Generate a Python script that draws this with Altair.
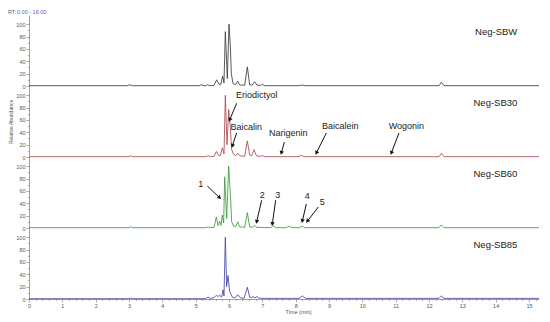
import math
import altair as alt
import pandas as pd

FONT = "Liberation Sans"
TIME_MAX = 15.3
Y_MAX = 115

SAMPLES = ["Neg-SBW", "Neg-SB30", "Neg-SB60", "Neg-SB85"]
COLORS = ["#3c3c3c", "#a84a50", "#3a9c3a", "#4646a2"]

SBW_T = [0, 2.95, 3.02, 3.1, 5.1, 5.18, 5.25, 5.3, 5.36, 5.42, 5.55, 5.63, 5.7, 5.75, 5.81, 5.85,
         5.89, 5.95, 6.0, 6.04, 6.07, 6.12, 6.2, 6.26, 6.32, 6.38, 6.42, 6.47, 6.55, 6.62, 6.7,
         6.77, 6.84, 6.95, 7.0, 7.06, 8.1, 8.2, 8.3, 12.3, 12.37, 12.45, 15.3]
SBW_Y = [0.5, 0.5, 2, 0.5, 0.5, 2, 0.5, 0.5, 2, 0.5, 1, 10, 3, 2, 16, 5,
         88, 12, 100, 65, 20, 4, 2, 8, 2, 1, 2, 1, 31, 2, 1.5,
         7, 1.5, 1, 3, 0.5, 0.5, 1.5, 0.5, 0.5, 6, 0.5, 0.5]

SB30_T = [0, 3.0, 3.05, 3.1, 5.3, 5.38, 5.45, 5.55, 5.62, 5.68, 5.74, 5.8, 5.85, 5.89, 5.94,
          5.99, 6.04, 6.08, 6.14, 6.2, 6.26, 6.32, 6.4, 6.47, 6.55, 6.62, 6.68, 6.75, 6.82,
          6.95, 7.0, 7.06, 8.1, 8.17, 8.25, 12.3, 12.37, 12.45, 15.3]
SB30_Y = [0.5, 0.5, 2, 0.5, 0.5, 2, 0.5, 1, 9, 3, 2, 15, 5, 100, 20,
          77, 47, 12, 4, 2, 6, 2, 1.5, 1, 26, 3, 2, 12, 2,
          1, 2.5, 0.5, 0.5, 3, 0.5, 0.5, 6, 0.5, 0.5]

SB60_T = [0, 3.0, 3.05, 3.1, 5.3, 5.38, 5.45, 5.55, 5.62, 5.67, 5.72, 5.76, 5.8, 5.84, 5.87,
          5.93, 5.99, 6.04, 6.08, 6.14, 6.2, 6.26, 6.32, 6.4, 6.47, 6.55, 6.62, 6.7, 6.77,
          6.84, 7.25, 7.33, 7.4, 7.72, 7.8, 7.88, 8.12, 8.2, 8.28, 12.3, 12.37, 12.45, 15.3]
SB60_Y = [0.5, 0.5, 2, 0.5, 0.5, 1.5, 0.5, 1, 18, 4, 11, 4, 21, 8, 83,
          15, 100, 56, 10, 3, 2, 10, 2, 1.5, 1, 25, 2, 1, 4,
          1, 0.5, 4, 0.5, 0.5, 3, 0.5, 0.5, 3, 0.5, 0.5, 5, 0.5, 0.5]

SB85_T = [0, 3.0, 3.05, 3.1, 5.3, 5.37, 5.44, 5.55, 5.62, 5.67, 5.72, 5.78, 5.82, 5.85, 5.89,
          5.93, 5.97, 6.02, 6.1, 6.18, 6.26, 6.34, 6.45, 6.55, 6.62, 6.68, 6.72, 6.78, 6.84,
          6.88, 6.95, 8.1, 8.2, 8.3, 12.3, 12.37, 12.45, 15.3]
SB85_Y = [0.5, 0.5, 1.5, 0.5, 0.5, 3, 1, 2, 6, 4, 6, 3, 15, 5, 100,
          20, 38, 12, 3, 2, 7, 2, 1, 19, 3, 2, 4, 2, 4,
          2, 1, 1, 5, 1, 1, 5, 1, 1]

TRACES_T = [SBW_T, SB30_T, SB60_T, SB85_T]
TRACES_Y = [SBW_Y, SB30_Y, SB60_Y, SB85_Y]

# Annotations
SB30_LABELS = ["Eriodictyol", "Baicalin", "Narigenin", "Baicalein", "Wogonin"]
SB30_LABEL_T = [6.83, 6.52, 7.78, 9.34, 11.32]
SB30_LABEL_Y = [100, 49, 39, 50, 50]
SB30_ARROW_T1 = [6.23, 6.23, 7.66, 8.92, 11.1]
SB30_ARROW_Y1 = [87, 39, 24, 39, 39]
SB30_ARROW_T2 = [6.02, 6.1, 7.57, 8.62, 10.87]
SB30_ARROW_Y2 = [60, 18, 6.5, 6.5, 6.5]

SB60_LABELS = ["1", "2", "3", "4", "5"]
SB60_LABEL_T = [5.15, 7.0, 7.46, 8.35, 8.8]
SB60_LABEL_Y = [71, 53, 53, 52, 42]
SB60_ARROW_T1 = [5.35, 6.98, 7.4, 8.32, 8.68]
SB60_ARROW_Y1 = [68, 45, 45, 39, 34]
SB60_ARROW_T2 = [5.72, 6.83, 7.3, 8.2, 8.35]
SB60_ARROW_Y2 = [49, 10, 6.5, 11, 11]

ANNOT = {
    1: (SB30_LABELS, SB30_LABEL_T, SB30_LABEL_Y, SB30_ARROW_T1, SB30_ARROW_Y1, SB30_ARROW_T2, SB30_ARROW_Y2),
    2: (SB60_LABELS, SB60_LABEL_T, SB60_LABEL_Y, SB60_ARROW_T1, SB60_ARROW_Y1, SB60_ARROW_T2, SB60_ARROW_Y2),
}

SAMPLE_LABEL_T = 14.65
SAMPLE_LABEL_Y = 88

X_MAJOR = list(range(16))
X_MINOR = [round(i * 0.2, 1) for i in range(77) if i % 5 != 0]
Y_MAJOR = [0, 20, 40, 60, 80, 100]
Y_MINOR = [10, 30, 50, 70, 90]

PLOT_W = 510
PANEL_H = 71
PX_PER_T = PLOT_W / TIME_MAX
PX_PER_Y = PANEL_H / Y_MAX

AX_COLOR = "#777777"
LBL_COLOR = "#555555"

x_scale = alt.Scale(domain=[0, TIME_MAX], nice=False, zero=False)
y_scale = alt.Scale(domain=[0, Y_MAX], nice=False)


def y_axis(show_title):
    return alt.Axis(
        values=Y_MAJOR, orient="left",
        labelFontSize=5.5, labelColor=LBL_COLOR, labelFont=FONT, labelPadding=1,
        labelOverlap=False, labelFlush=False,
        tickSize=3, tickColor=AX_COLOR, domainColor=AX_COLOR, tickWidth=0.6, domainWidth=0.7,
        grid=False,
        title="Relative Abundance", titleFontSize=5, titleFont=FONT, titleFontWeight="normal",
        titleColor=LBL_COLOR, titleOpacity=1 if show_title else 0, titlePadding=2,
    )


y_axis_minor = alt.Axis(
    values=Y_MINOR, orient="left", labels=False, domain=False, grid=False,
    tickSize=1.5, tickColor=AX_COLOR, tickWidth=0.6, title="",
)

x_axis_bottom = alt.Axis(
    values=X_MAJOR, orient="bottom", format="d",
    labelFontSize=5.5, labelColor=LBL_COLOR, labelFont=FONT, labelPadding=1,
    labelOverlap=False, labelFlush=False,
    tickSize=3, tickColor=AX_COLOR, domainColor=AX_COLOR, tickWidth=0.6, domainWidth=0.7,
    grid=False,
    title="Time (min)", titleFontSize=5.5, titleFont=FONT, titleFontWeight="normal",
    titleColor=LBL_COLOR, titlePadding=1, titleAlign="left", titleX=256,
)

x_axis_minor = alt.Axis(
    values=X_MINOR, orient="bottom", labels=False, domain=False, grid=False,
    tickSize=1.5, tickColor=AX_COLOR, tickWidth=0.6, title="",
)


def panel(i):
    bottom = i == len(SAMPLES) - 1
    df = pd.DataFrame({"t": TRACES_T[i], "y": TRACES_Y[i]})
    line = alt.Chart(df).mark_line(color=COLORS[i], strokeWidth=0.85).encode(
        x=alt.X("t:Q", scale=x_scale, axis=x_axis_bottom if bottom else None),
        y=alt.Y("y:Q", scale=y_scale, axis=y_axis(i == 1)),
    )
    minor = alt.Chart(df).mark_line(opacity=0).encode(
        x=alt.X("t:Q", scale=x_scale, axis=x_axis_minor if bottom else None),
        y=alt.Y("y:Q", scale=y_scale, axis=y_axis_minor),
    )
    lbl = pd.DataFrame({"t": [SAMPLE_LABEL_T], "y": [SAMPLE_LABEL_Y], "s": [SAMPLES[i]]})
    sample_text = alt.Chart(lbl).mark_text(
        align="right", baseline="middle", font=FONT, fontSize=9.5, color="#222222"
    ).encode(x=alt.X("t:Q", scale=x_scale, axis=None),
             y=alt.Y("y:Q", scale=y_scale, axis=None), text="s:N")
    layers = [line, minor, sample_text]

    if i in ANNOT:
        labels, lt, ly, t1, y1, t2, y2 = ANNOT[i]
        ang = []
        for a, b, c, d in zip(t1, y1, t2, y2):
            dx = (c - a) * PX_PER_T
            dy = (d - b) * PX_PER_Y
            ang.append(math.degrees(math.atan2(dx, dy)) % 360)
        adf = pd.DataFrame({"lab": labels, "lt": lt, "ly": ly, "t1": t1, "y1": y1,
                            "t2": t2, "y2": y2, "ang": ang})
        texts = alt.Chart(adf).mark_text(
            align="center", baseline="middle", font=FONT, fontSize=9, color="#222222"
        ).encode(x=alt.X("lt:Q", scale=x_scale, axis=None),
                 y=alt.Y("ly:Q", scale=y_scale, axis=None), text="lab:N")
        rules = alt.Chart(adf).mark_rule(color="#111111", strokeWidth=1).encode(
            x=alt.X("t1:Q", scale=x_scale, axis=None), y=alt.Y("y1:Q", scale=y_scale, axis=None),
            x2="t2:Q", y2="y2:Q",
        )
        heads = alt.Chart(adf).mark_point(
            shape="triangle-up", filled=True, color="#111111", size=20, opacity=1
        ).encode(
            x=alt.X("t2:Q", scale=x_scale, axis=None), y=alt.Y("y2:Q", scale=y_scale, axis=None),
            angle=alt.Angle("ang:Q", scale=None),
        )
        layers += [rules, heads, texts]

    if i == 0:
        rt1 = alt.Chart(lbl).mark_text(
            align="left", baseline="middle", font=FONT, fontSize=5.5, color="#666666"
        ).encode(x=alt.value(-21), y=alt.value(-3), text=alt.value("RT:"))
        rt2 = alt.Chart(lbl).mark_text(
            align="left", baseline="middle", font=FONT, fontSize=5.5, color="#5a5ab4"
        ).encode(x=alt.value(-12), y=alt.value(-3), text=alt.value("0.00 - 16.00"))
        layers += [rt1, rt2]

    return alt.layer(*layers).resolve_axis(x="independent", y="independent").properties(
        width=PLOT_W, height=PANEL_H
    )


chart = alt.vconcat(
    *[panel(i) for i in range(len(SAMPLES))], spacing=0, bounds="flush"
).properties(padding={"left": 0, "top": 2, "right": 0, "bottom": 0}).configure_view(stroke=None)

chart.save("out.html", embed_options={"renderer": "svg", "actions": False})
